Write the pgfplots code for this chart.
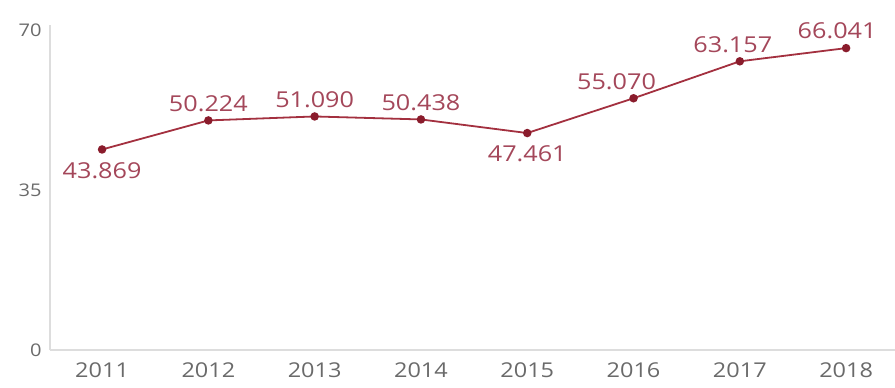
\documentclass[border=0pt]{standalone}
\usepackage{fontspec}
\setmainfont{Open Sans}[FakeStretch=1.15]
\usepackage{pgfplots}
\pgfplotsset{compat=1.18}
\usepackage{pgfplotstable}
\definecolor{linec}{HTML}{A3303F}
\definecolor{markc}{HTML}{8A1C2C}
\definecolor{labc}{HTML}{A4475A}
\definecolor{tickc}{HTML}{6A6A6A}
\definecolor{axc}{HTML}{DDDDDD}

\pgfplotstableread{
x y dx dy lab
0 43.869 0 -21 43.869
1 50.224 0 17 50.224
2 51.090 0 17 51.090
3 50.438 0 17 50.438
4 47.461 0 -21 47.461
5 55.070 -17 17 55.070
6 63.157 -7 17 63.157
7 66.041 -9 17 66.041
}\data

\begin{document}
\begin{tikzpicture}
\begin{axis}[
  scale only axis,
  width=845bp, height=325bp,
  xmin=-0.49, xmax=7.46,
  ymin=0, ymax=71.1,
  axis x line*=bottom, axis y line*=left,
  axis line style={axc, line width=1.5bp},
  x axis line style={-}, y axis line style={-},
  xtick={0,...,7},
  xticklabels={2011,2012,2013,2014,2015,2016,2017,2018},
  ytick={0,35,70},
  major tick length=0pt,
  tick style={draw=none},
  x tick label style={font=\fontsize{20.5}{22}\selectfont, text=tickc, anchor=north, yshift=-9bp},
  y tick label style={font=\fontsize{17.5}{19}\selectfont, text=tickc, anchor=east, xshift=-5bp},
  /pgf/number format/assume math mode=true,
  clip=false,
]
\addplot[
  color=linec, line width=1.8bp,
  mark=*, mark size=3.3bp,
  mark options={fill=markc, draw=markc},
  visualization depends on={\thisrow{dx} \as \dx},
  visualization depends on={\thisrow{dy} \as \dy},
  point meta=explicit symbolic,
  nodes near coords,
  every node near coord/.append style={anchor=center, xshift=\dx bp, yshift=\dy bp, text=labc, font=\fontsize{22}{24}\selectfont},
] table[x=x, y=y, meta=lab] {\data};
\end{axis}
\pgfresetboundingbox
\path (current axis.south west) ++(-50bp,-38bp) coordinate (bl);
\path (current axis.north east) ++(0bp,25bp) coordinate (tr);
\path[use as bounding box] (bl) rectangle (tr);
\end{tikzpicture}
\end{document}
